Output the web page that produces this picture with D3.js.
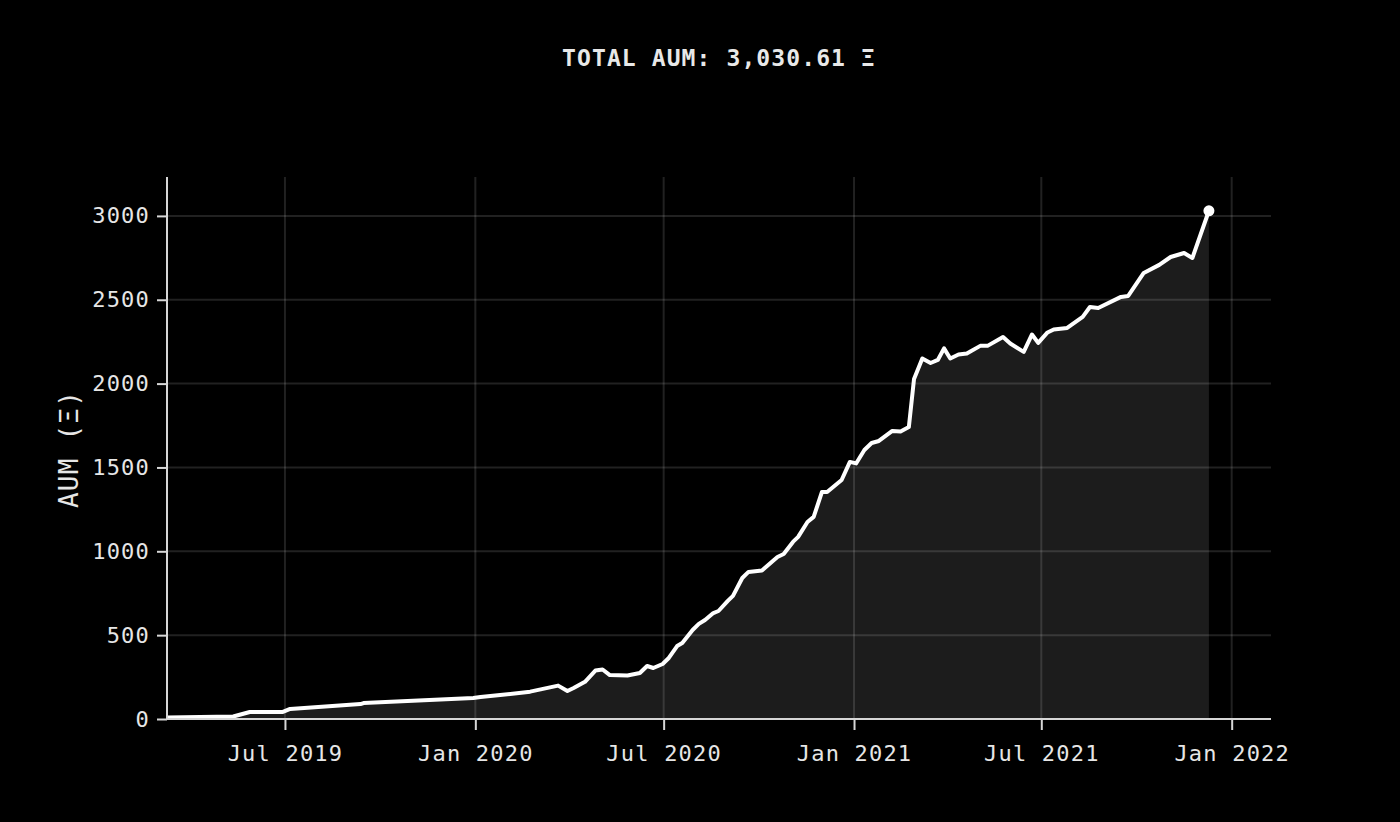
<!DOCTYPE html>
<html>
<head>
<meta charset="utf-8">
<script src="https://cdn.jsdelivr.net/npm/d3@7"></script>
<style>
  html, body { margin: 0; padding: 0; background: #000; }
  svg { display: block; }
  text { font-family: "DejaVu Sans Mono", monospace; }
</style>
</head>
<body>
<svg id="chart" width="1400" height="822"></svg>
<script>
const titleText = "TOTAL AUM: 3,030.61 Ξ";
const yLabel = "AUM (Ξ)";

const dates = [
  "2019-03-09","2019-05-12","2019-05-28","2019-06-29","2019-07-06","2019-09-12","2019-09-15",
  "2019-12-30","2020-01-06","2020-01-25","2020-02-23","2020-03-21","2020-03-30","2020-04-05",
  "2020-04-16","2020-04-26","2020-05-03","2020-05-10","2020-05-27","2020-06-08","2020-06-15",
  "2020-06-21","2020-06-30","2020-07-06","2020-07-14","2020-07-19","2020-07-29","2020-08-04",
  "2020-08-10","2020-08-18","2020-08-23","2020-09-01","2020-09-06","2020-09-15","2020-09-21",
  "2020-10-04","2020-10-19","2020-10-25","2020-11-03","2020-11-08","2020-11-17","2020-11-23",
  "2020-12-01","2020-12-06","2020-12-20","2020-12-28","2021-01-03","2021-01-11","2021-01-18",
  "2021-01-25","2021-02-07","2021-02-15","2021-02-23","2021-02-28","2021-03-08","2021-03-16",
  "2021-03-23","2021-03-29","2021-04-04","2021-04-12","2021-04-20","2021-05-03","2021-05-10",
  "2021-05-25","2021-06-01","2021-06-14","2021-06-22","2021-06-28","2021-07-07","2021-07-13",
  "2021-07-26","2021-08-10","2021-08-17","2021-08-25","2021-09-16","2021-09-23","2021-10-08",
  "2021-10-23","2021-11-03","2021-11-16","2021-11-24","2021-12-10"
];
const aum = [
  9, 15, 42, 42, 60, 89, 95,
  125, 131, 143, 163, 199, 167, 185,
  222, 289, 295, 262, 259, 274, 316,
  304, 328, 364, 435, 453, 531, 567,
  590, 632, 644, 704, 734, 841, 877,
  886, 966, 984, 1056, 1086, 1175, 1205,
  1354, 1354, 1425, 1533, 1524, 1604, 1646,
  1658, 1718, 1715, 1741, 2028, 2150, 2123,
  2141, 2210, 2150, 2174, 2180, 2225, 2225,
  2278, 2239, 2189, 2293, 2243, 2305, 2323,
  2332, 2398, 2457, 2451, 2517, 2523, 2660,
  2708, 2755, 2779, 2749, 3030.61
];
const yTicks = [0, 500, 1000, 1500, 2000, 2500, 3000];
const xTickDates = ["2019-07-01","2020-01-01","2020-07-01","2021-01-01","2021-07-01","2022-01-01"];
const xTickLabels = ["Jul 2019","Jan 2020","Jul 2020","Jan 2021","Jul 2021","Jan 2022"];
const xDomain = ["2019-03-09","2022-02-08"];
const yMax = 3232;

const parse = d3.utcParse("%Y-%m-%d");
const data = dates.map((d, i) => ({ date: parse(d), value: aum[i] }));

const padL = 167, padR = 1271, padT = 177, padB = 719;
const svg = d3.select("#chart");

const x = d3.scaleUtc().domain(xDomain.map(parse)).range([padL, padR]);
const y = d3.scaleLinear().domain([0, yMax]).range([padB, padT]);

// title
svg.append("text")
  .attr("x", 719).attr("y", 66)
  .attr("text-anchor", "middle")
  .attr("fill", "#e8e8e8")
  .attr("font-size", 23)
  .attr("font-weight", "bold")
  .attr("letter-spacing", 1.1)
  .text(titleText);

// area
const area = d3.area().x(d => x(d.date)).y0(y(0)).y1(d => y(d.value));
svg.append("path").datum(data)
  .attr("d", area)
  .attr("fill", "#1c1c1c");

// grid
const grid = svg.append("g");
grid.selectAll(".hg").data(yTicks.filter(v => v > 0)).join("line")
  .attr("x1", padL).attr("x2", padR)
  .attr("y1", d => y(d)).attr("y2", d => y(d))
  .attr("stroke", "rgba(255,255,255,0.13)").attr("stroke-width", 2);
grid.selectAll(".vg").data(xTickDates.map(parse)).join("line")
  .attr("x1", d => x(d)).attr("x2", d => x(d))
  .attr("y1", padT).attr("y2", padB)
  .attr("stroke", "rgba(255,255,255,0.13)").attr("stroke-width", 2);

// line
const line = d3.line().x(d => x(d.date)).y(d => y(d.value));
svg.append("path").datum(data)
  .attr("d", line)
  .attr("fill", "none")
  .attr("stroke", "#ffffff")
  .attr("stroke-width", 4)
  .attr("stroke-linejoin", "round");

// end point
const last = data[data.length - 1];
svg.append("circle")
  .attr("cx", x(last.date)).attr("cy", y(last.value))
  .attr("r", 5.5).attr("fill", "#ffffff");

// axes
const yAxis = d3.axisLeft(y).tickValues(yTicks).tickSize(10).tickPadding(8).tickFormat(d3.format("d"));
const gy = svg.append("g").attr("transform", `translate(${padL},0)`).call(yAxis);
const xAxis = d3.axisBottom(x).tickValues(xTickDates.map(parse)).tickSize(11).tickPadding(15)
  .tickFormat((d, i) => xTickLabels[i]);
const gx = svg.append("g").attr("transform", `translate(0,${padB})`).call(xAxis);

[gx, gy].forEach(g => {
  g.select(".domain").attr("stroke", "#d6d6d6").attr("stroke-width", 2);
  g.selectAll(".tick line").attr("stroke", "#d6d6d6").attr("stroke-width", 2);
  g.selectAll(".tick text")
    .attr("fill", "#e6e6e6")
    .attr("font-size", 22)
    .attr("letter-spacing", 1.2)
    .style("font-family", "'DejaVu Sans Mono', monospace");
});
gy.select(".domain").attr("d", `M0,${padT}V${padB}`);
gx.select(".domain").attr("d", `M${padL},0H${padR}`);
gy.selectAll(".tick text").attr("dx", 1);
gx.selectAll(".tick text").attr("dx", 0);

// y label
svg.append("text")
  .attr("transform", `translate(78,449) rotate(-90)`)
  .attr("text-anchor", "middle")
  .attr("fill", "#e6e6e6")
  .attr("font-size", 26)
  .attr("letter-spacing", 1.2)
  .text(yLabel);
</script>
</body>
</html>
